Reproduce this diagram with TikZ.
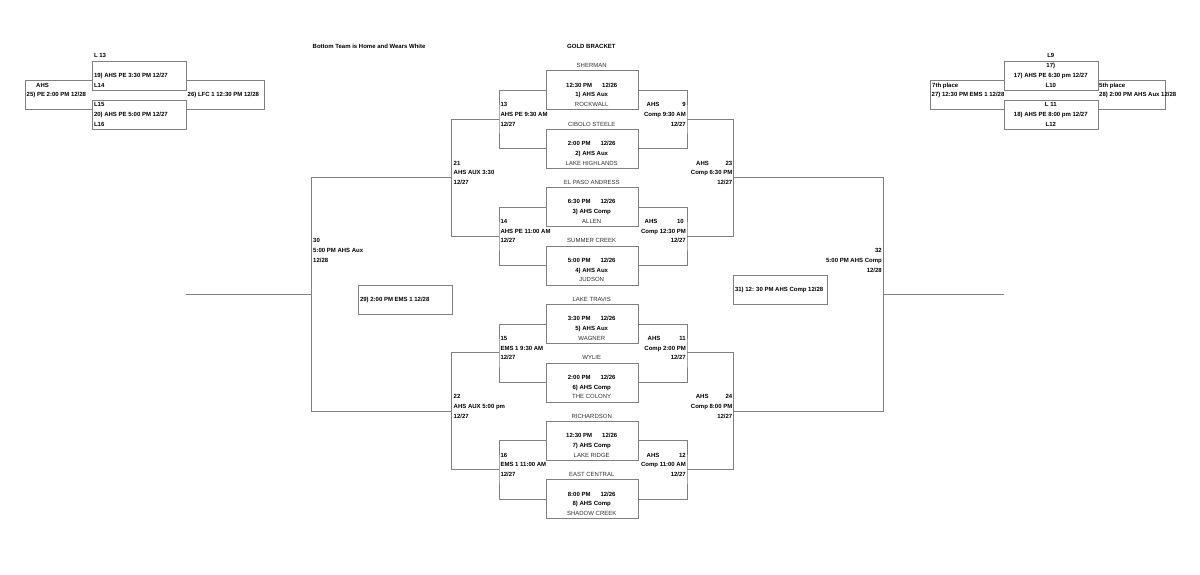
\documentclass[tikz,border=0pt]{standalone}
\usepackage{fontspec}
\setmainfont{Liberation Sans}
\definecolor{lineg}{RGB}{128,128,128}
\definecolor{teamc}{RGB}{50,50,50}
\newcommand{\gamebox}[6]{%
  \node[gbox, anchor=north west] (b#1) at (545.7,{2.5+#2}) {};
  \node[team] (bt#1) at (591.7,{2+#2}) {#3};
  \node[bld] (bd#1) at (591.7,{4+#2}) {#4\hspace{10pt}12/26};
  \node[bld] (bg#1) at (591.7,{5+#2}) {#5};
  \node[team] (bb#1) at (591.7,{6+#2}) {#6};
}
\begin{document}
\begin{tikzpicture}[x=1pt,y=-9.74pt,
  txt/.style={inner sep=0pt, text height=4.3pt, text depth=0pt, font=\fontsize{6}{7}\selectfont},
  bld/.style={txt, font=\fontsize{6}{7}\selectfont\bfseries},
  team/.style={txt, text=teamc},
  bldl/.style={bld, anchor=west},
  bldr/.style={bld, anchor=east},
  ln/.style={draw=lineg, line width=0.8pt},
  gbox/.style={ln, minimum width=92pt, minimum height=38.96pt, inner sep=0pt},
  sbox/.style={ln, minimum width=94pt, minimum height=29.22pt, inner sep=0pt, anchor=north west},
  tbox/.style={ln, minimum width=93.7pt, minimum height=29.22pt, inner sep=0pt, anchor=north west}]
\useasboundingbox[fill=white] (0,-4.7228) rectangle (1200,54.312);

% titles
\node[bldl] (hdr) at (312.5,0) {Bottom Team is Home and Wears White};
\node[bld] (gold) at (591.4,0) {GOLD BRACKET};

% center game boxes
\gamebox{1}{0}{SHERMAN}{12:30 PM}{1) AHS Aux}{ROCKWALL}
\gamebox{2}{6}{CIBOLO STEELE}{2:00 PM}{2) AHS Aux}{LAKE HIGHLANDS}
\gamebox{3}{12}{EL PASO ANDRESS}{6:30 PM}{3) AHS Comp}{ALLEN}
\gamebox{4}{18}{SUMMER CREEK}{5:00 PM}{4) AHS Aux}{JUDSON}
\gamebox{5}{24}{LAKE TRAVIS}{3:30 PM}{5) AHS Aux}{WAGNER}
\gamebox{6}{30}{WYLIE}{2:00 PM}{6) AHS Comp}{THE COLONY}
\gamebox{7}{36}{RICHARDSON}{12:30 PM}{7) AHS Comp}{LAKE RIDGE}
\gamebox{8}{42}{EAST CENTRAL}{8:00 PM}{8) AHS Comp}{SHADOW CREEK}

% bracket joints
\coordinate (c13) at (499,7.5);
\coordinate (c14) at (499,19.5);
\coordinate (c15) at (499,31.5);
\coordinate (c16) at (499,43.5);
\coordinate (c9) at (687,7.5);
\coordinate (c10) at (687,19.5);
\coordinate (c11) at (687,31.5);
\coordinate (c12) at (687,43.5);
\coordinate (c21) at (451.7,13.5);
\coordinate (c22) at (451.7,37.5);
\coordinate (c23) at (733.3,13.5);
\coordinate (c24) at (733.3,37.5);
\coordinate (c30) at (311.7,25.5);
\coordinate (c32) at (883.3,25.5);
\coordinate (fl) at (186,25.5);
\coordinate (fr) at (1004,25.5);

\draw[ln] (b1.west) -| (c13) |- (b2.west);
\draw[ln] (b3.west) -| (c14) |- (b4.west);
\draw[ln] (b5.west) -| (c15) |- (b6.west);
\draw[ln] (b7.west) -| (c16) |- (b8.west);
\draw[ln] (b1.east) -| (c9) |- (b2.east);
\draw[ln] (b3.east) -| (c10) |- (b4.east);
\draw[ln] (b5.east) -| (c11) |- (b6.east);
\draw[ln] (b7.east) -| (c12) |- (b8.east);
\draw[ln] (c13) -| (c21) |- (c14);
\draw[ln] (c15) -| (c22) |- (c16);
\draw[ln] (c9) -| (c23) |- (c10);
\draw[ln] (c11) -| (c24) |- (c12);
\draw[ln] (c21) -| (c30) |- (c22);
\draw[ln] (c23) -| (c32) |- (c24);
\draw[ln] (c30) -- (fl);
\draw[ln] (c32) -- (fr);

% left bracket labels
\node[bldl] (l13a) at (500.3,6) {13};
\node[bldl] (l13b) at (500.3,7) {AHS PE 9:30 AM};
\node[bldl] (l13c) at (500.3,8) {12/27};
\node[bldl] (l14a) at (500.3,18) {14};
\node[bldl] (l14b) at (500.3,19) {AHS PE 11:00 AM};
\node[bldl] (l14c) at (500.3,20) {12/27};
\node[bldl] (l15a) at (500.3,30) {15};
\node[bldl] (l15b) at (500.3,31) {EMS 1 9:30 AM};
\node[bldl] (l15c) at (500.3,32) {12/27};
\node[bldl] (l16a) at (500.3,42) {16};
\node[bldl] (l16b) at (500.3,43) {EMS 1 11:00 AM};
\node[bldl] (l16c) at (500.3,44) {12/27};
\node[bldl] (l21a) at (453.5,12) {21};
\node[bldl] (l21b) at (453.5,13) {AHS AUX 3:30};
\node[bldl] (l21c) at (453.5,14) {12/27};
\node[bldl] (l22a) at (453.5,36) {22};
\node[bldl] (l22b) at (453.5,37) {AHS AUX 5:00 pm};
\node[bldl] (l22c) at (453.5,38) {12/27};
\node[bldl] (l30a) at (313,20) {30};
\node[bldl] (l30b) at (313,21) {5:00 PM AHS Aux};
\node[bldl] (l30c) at (313,22) {12/28};

% right bracket labels
\node[bldl] (r9h) at (646.5,6) {AHS};
\node[bldr] (r9a) at (686,6) {9};
\node[bldr] (r9b) at (686,7) {Comp 9:30 AM};
\node[bldr] (r9c) at (686,8) {12/27};
\node[bldl] (r10h) at (644.5,18) {AHS};
\node[bldr] (r10a) at (684,18) {10};
\node[bldr] (r10b) at (686,19) {Comp 12:30 PM};
\node[bldr] (r10c) at (686,20) {12/27};
\node[bldl] (r11h) at (647.5,30) {AHS};
\node[bldr] (r11a) at (686,30) {11};
\node[bldr] (r11b) at (686,31) {Comp 2:00 PM};
\node[bldr] (r11c) at (686,32) {12/27};
\node[bldl] (r12h) at (646.5,42) {AHS};
\node[bldr] (r12a) at (686,42) {12};
\node[bldr] (r12b) at (686,43) {Comp 11:00 AM};
\node[bldr] (r12c) at (686,44) {12/27};
\node[bldl] (r23h) at (696,12) {AHS};
\node[bldr] (r23a) at (732.5,12) {23};
\node[bldr] (r23b) at (732.5,13) {Comp 6:30 PM};
\node[bldr] (r23c) at (732.5,14) {12/27};
\node[bldl] (r24h) at (695.7,36) {AHS};
\node[bldr] (r24a) at (732.5,36) {24};
\node[bldr] (r24b) at (732.5,37) {Comp 8:00 PM};
\node[bldr] (r24c) at (732.5,38) {12/27};
\node[bldr] (r32a) at (882,21) {32};
\node[bldr] (r32b) at (882,22) {5:00 PM AHS Comp};
\node[bldr] (r32c) at (882,23) {12/28};

% third place boxes
\node[sbox] (b29) at (358.3,24.5) {};
\node[bldl] (t29) at (359.8,26) {29) 2:00 PM EMS 1 12/28};
\node[sbox] (b31) at (733.3,23.5) {};
\node[bldl] (t31) at (734.8,25) {31) 12: 30 PM AHS Comp 12/28};

% top left consolation
\node[tbox] (b19) at (92.3,1.5) {};
\node[tbox] (b20) at (92.3,5.5) {};
\draw[ln] (92.3,3.5) -- (25,3.5) -- (25,6.5) -- (92.3,6.5);
\draw[ln] (186,3.5) -- (264.3,3.5) -- (264.3,6.5) -- (186,6.5);
\node[bldl] (tl1) at (93.8,1) {L 13};
\node[bldl] (tl2) at (93.8,3) {19) AHS PE 3:30 PM 12/27};
\node[bldl] (tl3) at (93.8,4) {L14};
\node[bldl] (tl4) at (93.8,6) {L15};
\node[bldl] (tl5) at (93.8,7) {20) AHS PE 5:00 PM 12/27};
\node[bldl] (tl6) at (93.8,8) {L16};
\node[bldl] (tl7) at (36,4) {AHS};
\node[bldl] (tl8) at (26.5,5) {25) PE 2:00 PM 12/28};
\node[bldl] (tl9) at (187.5,5) {26) LFC 1 12:30 PM 12/28};

% top right consolation
\node[tbox] (b17) at (1004,1.5) {};
\node[tbox] (b18) at (1004,5.5) {};
\draw[ln] (1004,3.5) -- (930.7,3.5) -- (930.7,6.5) -- (1004,6.5);
\draw[ln] (1097.7,3.5) -- (1165,3.5) -- (1165,6.5) -- (1097.7,6.5);
\node[bld] (tr1) at (1050.8,1) {L9};
\node[bld] (tr2) at (1050.8,2) {17)};
\node[bld] (tr3) at (1050.8,3) {17) AHS PE 6:30 pm 12/27};
\node[bld] (tr4) at (1050.8,4) {L10};
\node[bld] (tr5) at (1050.8,6) {L 11};
\node[bld] (tr6) at (1050.8,7) {18) AHS PE 8:00 pm 12/27};
\node[bld] (tr7) at (1050.8,8) {L12};
\node[bldl] (tr8) at (932,4) {7th place};
\node[bldl] (tr9) at (931.5,5) {27) 12:30 PM EMS 1 12/28};
\node[bldl] (tr10) at (1099,4) {5th place};
\node[bldl] (tr11) at (1099,5) {28) 2:00 PM AHS Aux 12/28};
\end{tikzpicture}
\end{document}
